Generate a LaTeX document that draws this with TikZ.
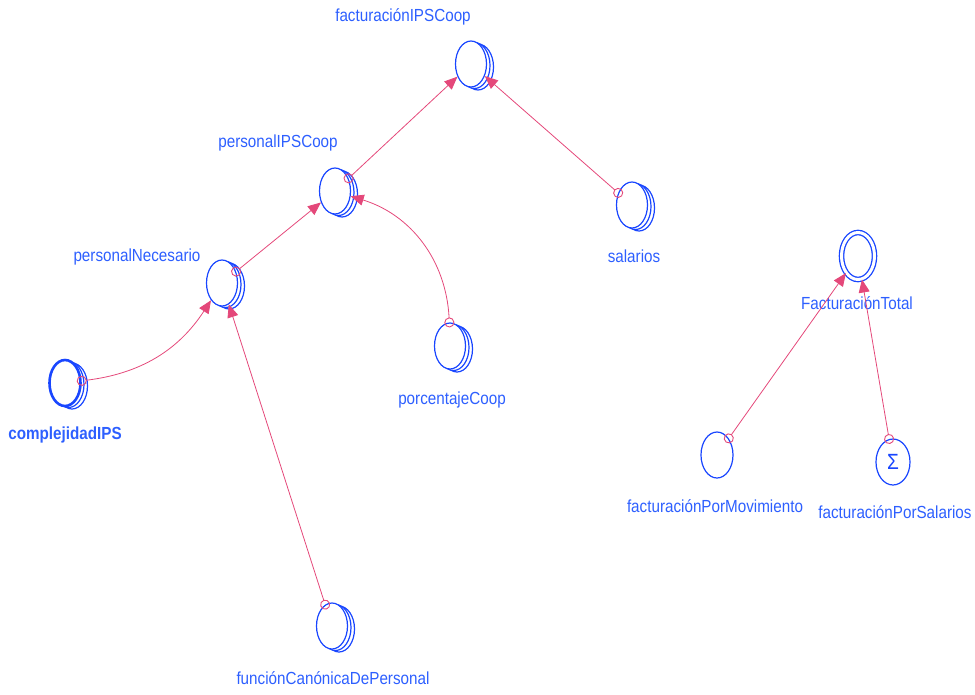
\documentclass[tikz,border=0pt]{standalone}
\usepackage{fontspec}
\setmainfont[FakeStretch=0.87]{Liberation Sans}
\usetikzlibrary{shapes.geometric,arrows.meta,shadows}

\definecolor{varblue}{RGB}{25,70,255}
\definecolor{txtblue}{RGB}{45,95,255}
\definecolor{linkpink}{RGB}{228,72,122}

\tikzset{
  var/.style={ellipse,draw=varblue,fill=white,line width=1.2pt,inner sep=0pt,
    minimum width=31pt,minimum height=46pt},
  stack/.style={var,
    copy shadow={shadow xshift=7pt,shadow yshift=-3pt,draw=varblue,fill=white,line width=1.2pt},
    copy shadow={shadow xshift=3.5pt,shadow yshift=-1.5pt,draw=varblue,fill=white,line width=1.2pt}},
  lbl/.style={text=txtblue,font=\fontsize{17.5}{20}\selectfont,inner sep=0pt,
    text height=13pt,text depth=4pt},
  link/.style={draw=linkpink,line width=0.8pt,shorten <=-5pt,
    {Circle[open,length=10pt,width=10pt,line width=0.9pt]}-{Triangle[length=13pt,width=11pt]}}
}

\begin{document}
\begin{tikzpicture}[x=1pt,y=-1pt]
  \useasboundingbox (0,0) rectangle (975,694);

  % stacked variables
  \node[stack] (fIPSCoop) at (471,64) {};
  \node[stack] (pIPSCoop) at (335,191) {};
  \node[stack] (pNec) at (222,283) {};
  \node[stack,line width=2.6pt] (cIPS) at (65,383) {};
  \node[stack] (pCoop) at (450,346) {};
  \node[stack] (sal) at (632,205) {};
  \node[stack] (fCanon) at (332,626) {};

  % total and its parts
  \node[var,double=white,double distance=3pt,line width=1.3pt,minimum width=33pt,minimum height=47pt] (fTotal) at (858,256) {};
  \node[var,minimum width=32pt,minimum height=46pt] (fMov) at (717,455) {};
  \node[var,minimum width=34pt,minimum height=46pt,text=varblue,font=\fontsize{22}{24}\selectfont] (fSal) at (893,462) {Σ};

  % labels
  \node[lbl] (fIPSCoop-l) at (403,17) {facturaciónIPSCoop};
  \node[lbl] (pIPSCoop-l) at (278,143) {personalIPSCoop};
  \node[lbl] (pNec-l) at (137,257) {personalNecesario};
  \node[lbl,font=\fontsize{17.5}{20}\selectfont\bfseries] (cIPS-l) at (65,435) {complejidadIPS};
  \node[lbl] (pCoop-l) at (452,400) {porcentajeCoop};
  \node[lbl] (sal-l) at (634,258) {salarios};
  \node[lbl] (fCanon-l) at (333,680) {funciónCanónicaDePersonal};
  \node[lbl] (fTotal-l) at (857,305) {FacturaciónTotal};
  \node[lbl] (fMov-l) at (715,508) {facturaciónPorMovimiento};
  \node[lbl] (fSal-l) at (895,514) {facturaciónPorSalarios};

  % links
  \draw[link] (pIPSCoop) -- (fIPSCoop);
  \draw[link] (sal) -- (fIPSCoop);
  \draw[link] (pNec) -- (pIPSCoop);
  \draw[link] (pCoop) to[bend right=35] (pIPSCoop);
  \draw[link] (cIPS) to[bend right=25] (pNec);
  \draw[link] (fCanon) -- (pNec);
  \draw[link] (fMov) -- (fTotal);
  \draw[link] (fSal) -- (fTotal);
\end{tikzpicture}
\end{document}
